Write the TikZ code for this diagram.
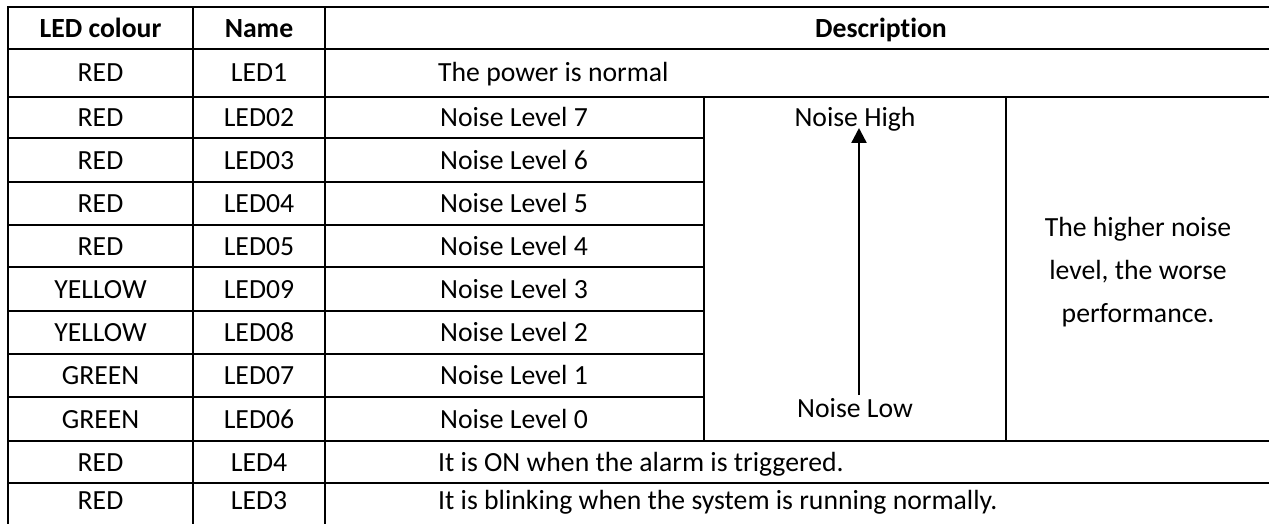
\documentclass[tikz,border=0pt]{standalone}
\usepackage{fontspec}
\setmainfont[Ligatures={NoCommon}]{Carlito}
\usetikzlibrary{arrows.meta}
\begin{document}
\begin{tikzpicture}[x=1pt,y=-1pt,
  grid/.style={line width=2.6pt},
  txt/.style={anchor=base,inner sep=0pt,font=\fontsize{27.7}{43}\selectfont},
  hdr/.style={anchor=base,inner sep=0pt,font=\fontsize{27.7}{43}\selectfont\bfseries},
  arr/.style={line width=2.4pt,-{Triangle[width=15pt,length=15pt]}}]
\useasboundingbox (0,0) rectangle (1269,524);
% grid lines
\draw[grid] (1269,7) -- (8,7) -- (8,524);
\foreach \y in {49,97,441,483} \draw[grid] (8,\y) -- (1269,\y);
\foreach \y in {138,182,225,267,311,354,397} \draw[grid] (8,\y) -- (704,\y);
\foreach \x in {193,325} \draw[grid] (\x,7) -- (\x,524);
\foreach \x in {704,1006} \draw[grid] (\x,97) -- (\x,441);
% header
\node[hdr] (hcol) at (100.5,38) {LED colour};
\node[hdr] (hname) at (259,38) {Name};
\node[hdr] (hdesc) at (881,38) {Description};
% rows with free description
\node[txt] (c1) at (100.5,82) {RED};
\node[txt] (n1) at (259,82) {LED1};
\node[txt,anchor=base west] (d1) at (438,82) {The power is normal};
\node[txt] (c11) at (100.5,471) {RED};
\node[txt] (n11) at (259,471) {LED4};
\node[txt,anchor=base west] (d11) at (438,471) {It is ON when the alarm is triggered.};
\node[txt] (c12) at (100.5,509) {RED};
\node[txt] (n12) at (259,509) {LED3};
\node[txt,anchor=base west] (d12) at (438,509) {It is blinking when the system is running normally.};
% noise level rows
\foreach \c/\n/\k/\b [count=\i from 2] in {RED/LED02/7/126.5, RED/LED03/6/169, RED/LED04/5/212.5, RED/LED05/4/255, YELLOW/LED09/3/298, YELLOW/LED08/2/341.5, GREEN/LED07/1/384.5, GREEN/LED06/0/428}{
  \node[txt] (c\i) at (100.5,\b) {\c};
  \node[txt] (n\i) at (259,\b) {\n};
  \node[txt] (d\i) at (514,\b) {Noise Level \k};
}
% arrow column
\node[txt] (nhigh) at (855,127) {Noise High};
\node[txt] (nlow) at (855,417) {Noise Low};
\coordinate (alow) at (859,395);
\coordinate (ahigh) at (859,128);
\draw[arr] (alow) -- (ahigh);
% right column
\node[txt,anchor=center,align=center] (perf) at (1138,272) {The higher noise\\level, the worse\\performance.};
\end{tikzpicture}
\end{document}
